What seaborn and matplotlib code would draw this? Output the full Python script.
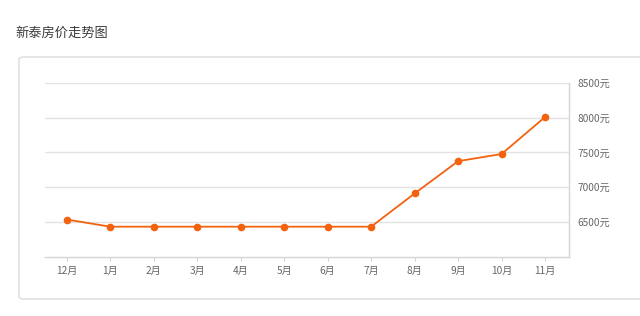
import matplotlib
matplotlib.use("Agg")
import matplotlib.pyplot as plt
from matplotlib.patches import FancyBboxPatch
import seaborn as sns
import pandas as pd

months = ["12月", "1月", "2月", "3月", "4月", "5月", "6月", "7月", "8月", "9月", "10月", "11月"]
prices = [6535, 6432, 6432, 6432, 6432, 6432, 6432, 6432, 6910, 7375, 7478, 8010]
y_ticks = [6500, 7000, 7500, 8000, 8500]
y_tick_labels = ["6500元", "7000元", "7500元", "8000元", "8500元"]
title = "新泰房价走势图"

sns.set_theme(style="white")
plt.rcParams['font.family'] = ['Noto Sans CJK SC', 'DejaVu Sans']

W, H = 640, 316
fig = plt.figure(figsize=(6.4, 3.16), dpi=100)

# card background
card = FancyBboxPatch((19 / W, (H - 299) / H), (660 - 19) / W, (299 - 57) / H,
                      boxstyle="round,pad=0,rounding_size=0.008",
                      transform=fig.transFigure, facecolor="white",
                      edgecolor="#dcdcdc", linewidth=1.0, zorder=-5)
fig.patches.append(card)

fig.text(15 / W, 1 - 33 / H, title, fontsize=9.5, color="#3a3a3a", va="center", ha="left")

ax = fig.add_axes([45 / W, (H - 256.7) / H, (569 - 45) / W, (256.7 - 83) / H])
ax.set_zorder(2)
ax.set_facecolor("none")

df = pd.DataFrame({"x": list(range(len(months))), "price": prices})
sns.lineplot(data=df, x="x", y="price", ax=ax, color="#f3620f", linewidth=1.3,
             marker="o", markersize=5.5, markeredgewidth=0, zorder=3)

ax.set_xlim(-0.5, 11.55)
ax.set_ylim(6000, 8500)
ax.set_xticks(range(len(months)))
ax.set_xticklabels(months)
ax.set_yticks(y_ticks)
ax.set_yticklabels(y_tick_labels)
ax.yaxis.tick_right()
ax.set_xlabel("")
ax.set_ylabel("")

for y in y_ticks:
    ax.axhline(y, color="#e3e3e3", linewidth=1.0, zorder=1)

for s in ["top", "left"]:
    ax.spines[s].set_visible(False)
ax.spines["bottom"].set_color("#d5d5d5")
ax.spines["right"].set_color("#d5d5d5")
ax.spines["bottom"].set_linewidth(1.0)
ax.spines["right"].set_linewidth(1.0)

ax.tick_params(axis="x", which="both", bottom=True, length=3, width=0.8, color="#d5d5d5",
               labelsize=7.3, labelcolor="#666666", pad=4)
ax.tick_params(axis="y", which="both", right=False, left=False, length=0,
               labelsize=7.3, labelcolor="#666666", pad=6)

fig.savefig("out.png", dpi=100)
